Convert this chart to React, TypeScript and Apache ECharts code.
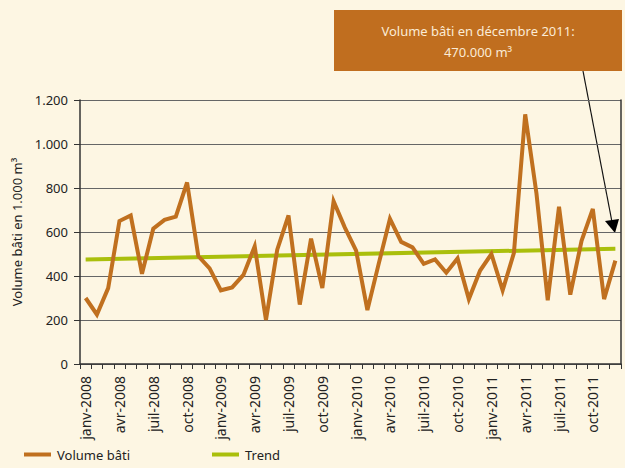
import React, { useEffect, useRef } from "react";
import * as echarts from "echarts";

const months = ["janv", "févr", "mars", "avr", "mai", "juin", "juil", "août", "sept", "oct", "nov", "déc"];
const years = [2008, 2009, 2010, 2011];
const categories: string[] = years.flatMap((y) => months.map((m) => `${m}-${y}`));

const volumeBati = [
  300, 225, 345, 650, 675, 410, 615, 655, 670, 825, 490, 435,
  335, 348, 405, 535, 200, 520, 675, 270, 570, 345, 740, 620,
  515, 245, 455, 660, 555, 530, 455, 475, 415, 480, 295, 425,
  500, 335, 505, 1135, 775, 290, 715, 315, 560, 705, 295, 470,
];

const trendStart = 475;
const trendEnd = 524;
const trend: (number | null)[] = categories.map((_, i) =>
  i === 0 ? trendStart : i === categories.length - 1 ? trendEnd : null
);

const yTicks = { min: 0, max: 1200, interval: 200 };

const BG = "#FDF6E3";
const ORANGE = "#C0701F";
const GREEN = "#AABF0C";
const FONT = "Noto Sans";

export default function App() {
  const ref = useRef<HTMLDivElement>(null);
  useEffect(() => {
    if (!ref.current) return;
    const chart = echarts.init(ref.current, null, { renderer: "svg" });
    const legendCommon = {
      top: 448,
      padding: 0,
      icon: "rect",
      itemWidth: 27,
      itemHeight: 4,
      itemGap: 6,
      textStyle: { fontSize: 13, color: "#222", fontFamily: FONT, padding: [0, 0, 0, 1] },
    };
    chart.setOption({
      animation: false,
      backgroundColor: BG,
      textStyle: { fontFamily: FONT },
      grid: { left: 80, right: 4, top: 100, bottom: 104, show: false },
      legend: [
        { ...legendCommon, data: ["Volume bâti"], left: 24 },
        { ...legendCommon, data: ["Trend"], left: 212 },
      ],
      xAxis: {
        type: "category",
        data: categories,
        boundaryGap: true,
        axisLine: { show: true, lineStyle: { color: "#333", width: 1.5 } },
        axisTick: { show: true, interval: 0, length: 5, lineStyle: { color: "#333" } },
        axisLabel: {
          interval: 2,
          rotate: 90,
          margin: 12,
          fontSize: 14,
          color: "#222",
          fontFamily: FONT,
        },
      },
      yAxis: [
        {
          type: "value",
          min: yTicks.min,
          max: yTicks.max,
          interval: yTicks.interval,
          name: "Volume bâti en 1.000 m³",
          nameLocation: "middle",
          nameGap: 48,
          nameTextStyle: { fontSize: 13, color: "#222", fontFamily: FONT },
          axisLine: { show: true, lineStyle: { color: "#333", width: 1.5 } },
          axisTick: { show: true, length: 6, lineStyle: { color: "#333" } },
          axisLabel: {
            margin: 12,
            fontSize: 13,
            color: "#222",
            fontFamily: FONT,
            formatter: (v: number) => (v >= 1000 ? `${Math.floor(v / 1000)}.${String(v % 1000).padStart(3, "0")}` : String(v)),
          },
          splitLine: { show: true, lineStyle: { color: "#666", width: 1 } },
        },
        {
          type: "value",
          min: yTicks.min,
          max: yTicks.max,
          interval: yTicks.interval,
          position: "right",
          axisLine: { show: true, lineStyle: { color: "#333", width: 1.5 } },
          axisTick: { show: false },
          axisLabel: { show: false },
          splitLine: { show: false },
        },
      ],
      series: [
        {
          name: "Trend",
          type: "line",
          data: trend,
          connectNulls: true,
          showSymbol: false,
          symbol: "none",
          itemStyle: { color: GREEN },
          lineStyle: { color: GREEN, width: 4 },
          z: 2,
        },
        {
          name: "Volume bâti",
          type: "line",
          data: volumeBati,
          showSymbol: false,
          symbol: "none",
          itemStyle: { color: ORANGE },
          lineStyle: { color: ORANGE, width: 4, join: "miter" },
          z: 3,
        },
      ],
      graphic: [
        {
          type: "rect",
          shape: { x: 334, y: 10, width: 288, height: 61 },
          style: { fill: "#C06E1F" },
        },
        {
          type: "text",
          x: 478,
          y: 41,
          style: {
            text: "Volume bâti en décembre 2011:\n470.000 m³",
            fill: "#FBEBD5",
            font: `13px ${FONT}`,
            textAlign: "center",
            textVerticalAlign: "middle",
            lineHeight: 21,
          },
        },
        {
          type: "line",
          shape: { x1: 583, y1: 71, x2: 612, y2: 222 },
          style: { stroke: "#111", lineWidth: 1.2 },
        },
        {
          type: "polygon",
          shape: { points: [[605, 221], [619, 219], [615, 233]] },
          style: { fill: "#000" },
        },
      ],
    });
    return () => chart.dispose();
  }, []);
  return <div ref={ref} style={{ position: "fixed", left: 0, top: 0, width: 625, height: 468 }} />;
}
